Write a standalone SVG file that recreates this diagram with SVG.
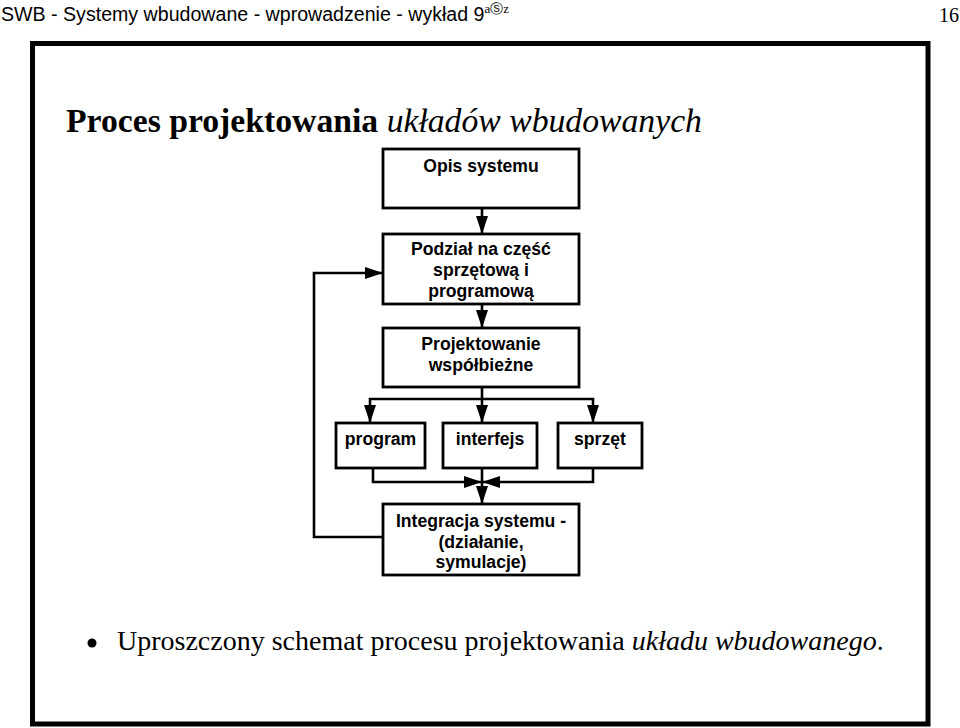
<svg xmlns="http://www.w3.org/2000/svg" width="960" height="728" viewBox="0 0 960 728">
<defs>
<style>
.hdr{font-family:"Liberation Sans",Arial,sans-serif;font-size:19.6px;fill:#000}
.ser{font-family:"Liberation Serif","Times New Roman",serif;fill:#000}
.box{fill:#fff;stroke:#000;stroke-width:2.8}
.lbl{font-family:"Liberation Sans",Arial,sans-serif;font-size:17.6px;font-weight:bold;fill:#000;text-anchor:middle}
.con{fill:none;stroke:#000;stroke-width:2.6}
</style>
<marker id="ah" markerUnits="userSpaceOnUse" markerWidth="18" markerHeight="12" refX="18" refY="6" orient="auto" viewBox="0 0 18 12">
<path d="M0,0 L18,6 L0,12 Z" fill="#000"/>
</marker>
</defs>
<rect width="960" height="728" fill="#fff"/>
<text class="hdr" x="1" y="21">SWB - Systemy wbudowane - wprowadzenie - wykład 9<tspan class="ser" font-size="13" dy="-8">aⓈz</tspan></text>
<text class="ser" x="939" y="22" font-size="20">16</text>
<rect x="32.5" y="43.5" width="895.5" height="680.5" fill="none" stroke="#000" stroke-width="5"/>
<text class="ser" x="66" y="132" font-size="33.7"><tspan font-weight="bold">Proces projektowania</tspan> <tspan font-style="italic">układów wbudowanych</tspan></text>
<circle cx="92" cy="643" r="4.5" fill="#000"/>
<text class="ser" x="117" y="650" font-size="28">Uproszczony schemat procesu projektowania <tspan font-style="italic">układu wbudowanego</tspan>.</text>
<g id="connectors">
<line class="con" x1="482" y1="208" x2="482" y2="234" marker-end="url(#ah)"/>
<line class="con" x1="482" y1="304" x2="482" y2="328" marker-end="url(#ah)"/>
<line class="con" x1="482" y1="387" x2="482" y2="423" marker-end="url(#ah)"/>
<polyline class="con" points="482,399 370,399 370,423" marker-end="url(#ah)"/>
<polyline class="con" points="482,399 593,399 593,423" marker-end="url(#ah)"/>
<polyline class="con" points="373,468 373,482 482,482" marker-end="url(#ah)"/>
<polyline class="con" points="593,468 593,482 482,482" marker-end="url(#ah)"/>
<line class="con" x1="482" y1="468" x2="482" y2="504" marker-end="url(#ah)"/>
<polyline class="con" points="383,537 314,537 314,273 383,273" marker-end="url(#ah)"/>
</g>
<g id="opis">
<rect class="box" x="383" y="149" width="196" height="59"/>
<text class="lbl" x="481" y="172">Opis systemu</text>
</g>
<g id="podzial">
<rect class="box" x="383" y="234" width="196" height="70"/>
<text class="lbl" x="481" y="255">Podział na część</text>
<text class="lbl" x="481" y="276">sprzętową i</text>
<text class="lbl" x="481" y="297">programową</text>
</g>
<g id="projektowanie">
<rect class="box" x="383" y="328" width="196" height="59"/>
<text class="lbl" x="481" y="350">Projektowanie</text>
<text class="lbl" x="481" y="371">współbieżne</text>
</g>
<g id="program">
<rect class="box" x="336" y="423" width="89" height="45"/>
<text class="lbl" x="380.5" y="445">program</text>
</g>
<g id="interfejs">
<rect class="box" x="443" y="423" width="94" height="45"/>
<text class="lbl" x="490" y="445">interfejs</text>
</g>
<g id="sprzet">
<rect class="box" x="558" y="423" width="84" height="45"/>
<text class="lbl" x="600" y="445">sprzęt</text>
</g>
<g id="integracja">
<rect class="box" x="383" y="504" width="196" height="71"/>
<text class="lbl" x="481" y="527">Integracja systemu -</text>
<text class="lbl" x="481" y="548">(działanie,</text>
<text class="lbl" x="481" y="568">symulacje)</text>
</g>
</svg>
